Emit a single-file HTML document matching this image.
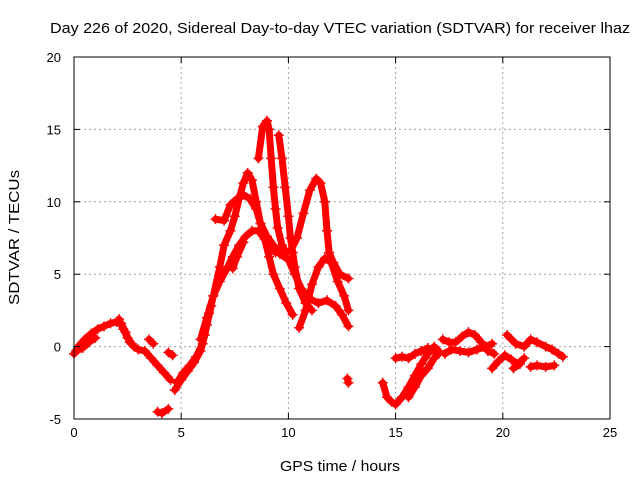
<!DOCTYPE html>
<html><head><meta charset="utf-8"><style>
body{margin:0;background:#fff;}
svg{display:block;font-family:"Liberation Sans",sans-serif;}
</style></head><body>
<svg id="chart" width="640" height="480" viewBox="0 0 640 480" xmlns="http://www.w3.org/2000/svg">
<rect width="640" height="480" fill="#fff"/>
<text x="50" y="33" font-size="15" textLength="580" lengthAdjust="spacingAndGlyphs">Day 226 of 2020, Sidereal Day-to-day VTEC variation (SDTVAR) for receiver lhaz</text>
<text x="280" y="471" font-size="15" textLength="120" lengthAdjust="spacingAndGlyphs">GPS time / hours</text>
<text transform="translate(19,305) rotate(-90)" font-size="15" textLength="135" lengthAdjust="spacingAndGlyphs">SDTVAR / TECUs</text>
<g id="grid"></g>
<g id="series"></g>
<rect x="74" y="57" width="536" height="362" fill="none" stroke="#000" stroke-width="1"/>
<g id="ticks"></g>
</svg>
<script>
const xTicks=[0,5,10,15,20,25];
const yTicks=[-5,0,5,10,15,20];
const tracks=[
[[0,-0.5],[0.2,0],[0.5,0.5],[0.8,0.9],[1.1,1.2],[1.4,1.4],[1.7,1.6],[2,1.7],[2.2,1.6],[2.4,1.0],[2.6,0.3],[2.8,0],[3,-0.2],[3.3,-0.3],[3.6,-0.8],[3.9,-1.3],[4.2,-1.8],[4.5,-2.3]],
[[0.1,-0.3],[0.4,-0.1],[0.7,0.3],[1,0.6]],
[[2.1,1.9],[2.3,1.2],[2.5,0.6],[2.7,0.2]],
[[3.5,0.5],[3.7,0.2]],
[[3.9,-4.5],[4.1,-4.6],[4.4,-4.3]],
[[4.4,-0.4],[4.6,-0.6]],
[[4.7,-3],[5,-2.3],[5.3,-1.7],[5.6,-1.1],[5.9,-0.3],[6.1,0.8],[6.3,2.3],[6.5,3.5],[6.8,4.5],[7.1,5.3],[7.4,6.2],[7.7,7],[8,7.6],[8.3,8],[8.6,8],[8.9,7.4],[9.1,6.2],[9.3,5],[9.6,4],[9.9,3],[10.2,2.2]],
[[4.8,-2.5],[5.1,-1.8],[5.4,-1.3],[5.7,-0.7],[6,0.2],[6.2,1.5],[6.4,2.8]],
[[5.9,0.5],[6.2,2],[6.5,3.5],[6.8,5.5],[7,7],[7.3,8],[7.5,9],[7.7,10.2],[7.9,11.3],[8.1,12],[8.3,11.5],[8.5,10],[8.7,8.5],[9,7.6],[9.3,7],[9.6,6.4],[10,6],[10.3,5],[10.6,4],[11,3.3],[11.4,3],[11.8,3.2],[12.2,2.8],[12.5,2.2],[12.8,1.4]],
[[6.6,8.8],[7,8.7],[7.3,9.8],[7.6,10.2],[7.9,10.5],[8.2,10.2],[8.5,9.5],[8.7,8.5],[8.9,7.5],[9.1,6.8],[9.4,6.5],[9.8,6.5],[10.1,6.6],[10.4,7.5],[10.7,9.2],[11,10.8],[11.3,11.6],[11.5,11.3],[11.7,10],[11.8,8],[11.9,6.5],[12.1,5.8],[12.4,5],[12.8,4.7]],
[[8.6,13],[8.8,15.2],[9,15.6],[9.1,15],[9.2,13],[9.3,11],[9.4,9.5],[9.5,8.2],[9.7,7],[9.9,6.5]],
[[9.55,14.6],[9.7,13],[9.85,11],[10,9],[10.1,7.5],[10.2,6.5],[10.3,5.5],[10.5,4],[10.8,3],[11.1,2.5]],
[[10.5,1.3],[10.8,2.5],[11.1,4.3],[11.4,5.5],[11.7,6.1],[12,5.8],[12.3,4.5],[12.6,3.5],[12.8,2.5]],
[[7.4,5.4],[7.6,6.2],[7.9,7.2]],
[[12.75,-2.2],[12.8,-2.5]],
[[14.4,-2.5],[14.6,-3.5],[14.8,-3.8],[15,-4],[15.3,-3.5],[15.6,-2.8],[15.9,-2],[16.2,-1.2],[16.5,-0.5],[16.8,0],[17,-0.3]],
[[15,-0.8],[15.3,-0.7],[15.6,-0.8],[15.9,-0.5],[16.2,-0.3],[16.5,-0.1],[16.8,-0.3]],
[[15.6,-3.5],[15.9,-2.8],[16.2,-2],[16.5,-1.5],[16.8,-0.8],[17,-0.5]],
[[17.2,0.5],[17.5,0.3],[17.8,0.3],[18.1,0.7],[18.4,1],[18.7,0.8],[19,0.3],[19.3,-0.3],[19.6,-0.5]],
[[17.3,-0.5],[17.6,-0.2],[18,-0.3],[18.4,-0.4],[18.8,-0.2],[19.2,0],[19.5,0.2]],
[[19.5,-1.5],[19.8,-1],[20.1,-0.6],[20.4,-0.9],[20.7,-1.2],[21,-0.8]],
[[20.2,0.8],[20.6,0.2],[21,0],[21.3,0.5],[21.6,0.3],[22,0],[22.3,-0.2],[22.6,-0.5],[22.8,-0.7]],
[[21.3,-1.4],[21.6,-1.3],[22,-1.4],[22.4,-1.3]],
[[20.5,-1.5],[20.8,-1.2]]
];
const X0=74,X1=610,Y0=419,Y1=57;
function xs(t){return X0+(t-0)/(25-0)*(X1-X0);}
function ys(v){return Y0-(v+5)/(25)*(Y0-Y1);}
const NS='http://www.w3.org/2000/svg';
const grid=document.getElementById('grid'),ticks=document.getElementById('ticks'),ser=document.getElementById('series');
function mk(tag,attrs,parent){const e=document.createElementNS(NS,tag);for(const k in attrs)e.setAttribute(k,attrs[k]);parent.appendChild(e);return e;}
xTicks.forEach(t=>{
  const x=xs(t);
  if(t>0&&t<25){const g=mk('line',{x1:x,x2:x,y1:Y1,y2:Y0,stroke:'#a0a0a0','stroke-dasharray':'2,3'},grid);
  
  }
  const l=mk('text',{x:x,y:Y0+18,'font-size':13,'text-anchor':'middle'},ticks);
  l.textContent=t;
  
  
  mk('line',{x1:x,x2:x,y1:Y0,y2:Y0-6,stroke:'#000'},ticks);
  mk('line',{x1:x,x2:x,y1:Y1,y2:Y1+6,stroke:'#000'},ticks);
});
yTicks.forEach(v=>{
  const y=ys(v);
  if(v>-5&&v<20){const g=mk('line',{x1:X0,x2:X1,y1:y,y2:y,stroke:'#a0a0a0','stroke-dasharray':'2,3'},grid);
  
  }
  const l=mk('text',{x:X0-13,y:y+5,'font-size':13,'text-anchor':'end'},ticks);
  l.textContent=v;
  
  
  mk('line',{x1:X0,x2:X0+6,y1:y,y2:y,stroke:'#000'},ticks);
  mk('line',{x1:X1,x2:X1-6,y1:y,y2:y,stroke:'#000'},ticks);
});
tracks.forEach(tr=>{
  const pts=tr.map(p=>xs(p[0]).toFixed(1)+','+ys(p[1]).toFixed(1)).join(' ');
  const pl=mk('polyline',{points:pts,fill:'none',stroke:'#ff0000','stroke-width':7,'stroke-linejoin':'round','stroke-linecap':'round'},ser);
  
  
  tr.forEach(p=>{
    const x=xs(p[0]),y=ys(p[1]);
    const m=mk('path',{d:`M${x-5},${y}H${x+5}M${x},${y-5}V${y+5}`,stroke:'#ff0000','stroke-width':1.5},ser);
    
    
  });
});
</script>
</body></html>
